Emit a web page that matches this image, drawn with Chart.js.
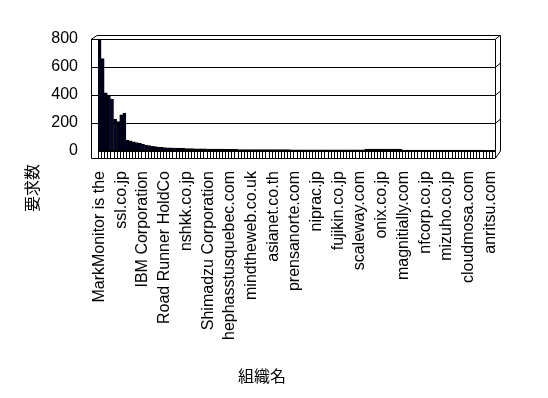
<!DOCTYPE html>
<html><head><meta charset="utf-8">
<script src="https://cdn.jsdelivr.net/npm/chart.js@4"></script>
<style>html,body{margin:0;padding:0;background:#fff}#w{width:548px;height:398px}</style>
</head><body><div id="w"><canvas id="c" width="548" height="398"></canvas></div>
<script>
// Shown category names (every 7th organisation is labelled on the axis)
const labelNames = ["MarkMonitor is the","ssl.co.jp","IBM Corporation","Road Runner HoldCo","nshkk.co.jp","Shimadzu Corporation","hephasstusquebec.com","mindtheweb.co.uk","asianet.co.th","prensanorte.com","niprac.jp","fujikin.co.jp","scaleway.com","onix.co.jp","magnitially.com","nfcorp.co.jp","mizuho.co.jp","cloudmosa.com","anritsu.com"];
const labelEvery = 7;
// 要求数 per organisation (128 organisations)
const requests = [
 790,660,415,400,370,228,210,258,270,78,
 72,66,60,54,48,43,38,34,31,28,
 26,25,23,22,21,20,20,19,18,17,
 17,16,16,15,15,14,14,14,13,13,
 13,12,12,12,12,11,11,11,11,11,
 10,10,10,10,10,10,10,10,10,10,
 10,10,9,9,9,9,9,9,9,9,
 9,9,9,9,9,9,9,9,9,9,
 9,9,9,9,9,9,13,13,13,13,
 13,13,13,13,13,13,13,13,7,7,
 7,7,7,7,7,7,7,7,7,7,
 6,6,6,6,6,6,6,6,6,6,
 6,6,6,6,5,5,5,5
];
const yTicks = [0,200,400,600,800];
const yTitle = "要求数";
const xTitle = "組織名";

const categories = requests.map((v,i)=> i % labelEvery === 0 ? (labelNames[i/labelEvery] || "") : "");

const FONT = "'Liberation Sans', Arial, sans-serif";
const frame3d = {
  id:'frame3d',
  beforeDatasetsDraw(chart){
    const {ctx, chartArea:a, scales:{y}} = chart;
    const L = a.left - 7, R = a.right, dx = 5, dy = 4;
    ctx.save();
    ctx.strokeStyle = '#000'; ctx.lineWidth = 1;
    const ln = (x1,y1,x2,y2)=>{ctx.beginPath();ctx.moveTo(x1,y1);ctx.lineTo(x2,y2);ctx.stroke();};
    yTicks.filter(v=>v>0).forEach(v=>{
      const py = Math.round(y.getPixelForValue(v)) + 0.5;
      ln(L, py, R, py);
      ln(R, py, R+dx, py-dy);
    });
    const top = Math.round(y.getPixelForValue(800)) + 0.5;
    ln(L, top, L+6, top-4); ln(L+6, top-4, R+dx+0.5, top-4);
    ln(R+0.5, top, R+0.5, a.bottom+1);
    ln(R+dx+0.5, top-4, R+dx+0.5, a.bottom);
    ln(R+dx+0.5, a.bottom, R+0.5, a.bottom+7);
    ctx.restore();
  },
  afterDatasetsDraw(chart){
    const {ctx, chartArea:a} = chart;
    const L = a.left - 7 + 0.5, R = a.right;
    const meta = chart.getDatasetMeta(0);
    const fTop = a.bottom, fBot = a.bottom + 7;
    ctx.save();
    ctx.strokeStyle = '#000'; ctx.lineWidth = 1;
    ctx.fillStyle = '#fff';
    ctx.fillRect(a.left, fTop, R - a.left, fBot - fTop);
    ctx.beginPath();
    meta.data.forEach(b=>{
      const x = Math.round(b.x - b.width/2) + 0.5;
      ctx.moveTo(x, fTop); ctx.lineTo(x, fBot);
    });
    ctx.moveTo(R+0.5, fTop); ctx.lineTo(R+0.5, fBot);
    ctx.stroke();
    ctx.fillStyle = '#000';
    ctx.fillRect(a.left, fTop-1, R - a.left, 2);
    ctx.beginPath();
    ctx.moveTo(L, a.top); ctx.lineTo(L, fBot+0.5); ctx.lineTo(R+0.5, fBot+0.5);
    ctx.stroke();
    ctx.fillStyle = '#000';
    ctx.font = "16px 'Noto Sans CJK JP', sans-serif";
    ctx.textAlign = 'center'; ctx.textBaseline = 'middle';
    ctx.fillText(xTitle, 262, 376);
    ctx.translate(32, 188); ctx.rotate(-Math.PI/2);
    ctx.fillText(yTitle, 0, 0);
    ctx.restore();
  }
};

new Chart(document.getElementById('c'), {
  type: 'bar',
  data: { labels: categories, datasets: [{ data: requests, backgroundColor: '#000028', borderColor: '#000', borderWidth: 1, barPercentage: 1, categoryPercentage: 1 }] },
  options: {
    responsive: false, animation: false, devicePixelRatio: 1,
    layout: { padding: { left: 0, right: 53, top: 39, bottom: 0 } },
    plugins: { legend: { display: false }, tooltip: { enabled: false } },
    scales: {
      y: { min: 0, max: 800, afterBuildTicks: s => { s.ticks = yTicks.map(v=>({value:v})); },
           afterFit: s => { s.width = 98; },
           grid: { display: false, drawTicks: false }, border: { display: false },
           ticks: { padding: 20, color: '#000', font: { family: FONT, size: 16 } } },
      x: { afterFit: s => { s.height = 247; },
           grid: { display: false, drawTicks: false }, border: { display: false },
           ticks: { autoSkip: false, maxRotation: 90, minRotation: 90, padding: 20, color: '#000', font: { family: FONT, size: 16 } } }
    }
  },
  plugins: [frame3d]
});
</script></body></html>
